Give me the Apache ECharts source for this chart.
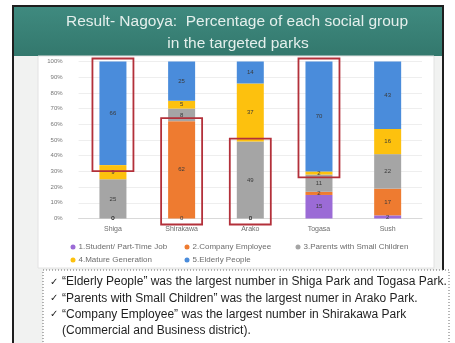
<!DOCTYPE html>
<html>
<head>
<meta charset="utf-8">
<script src="https://cdn.jsdelivr.net/npm/echarts@6/dist/echarts.min.js"></script>
<style>
  html, body { margin: 0; padding: 0; background: #ffffff; }
  #chart { width: 455px; height: 343px; }
</style>
</head>
<body>
<div id="chart"></div>
<script>
// Share of each visitor group per park (percent of respondents)
const categories = ['Shiga', 'Shirakawa', 'Arako', 'Togasa', 'Sush'];
const studentPartTime = [0, 0, 0, 15, 2];
const companyEmployee = [0, 62, 0, 2, 17];
const parentsSmallChildren = [25, 8, 49, 11, 22];
const matureGeneration = [9, 5, 37, 2, 16];
const elderlyPeople = [66, 25, 14, 70, 43];

const groupNames = [
  '1.Student/ Part-Time Job',
  '2.Company Employee',
  '3.Parents with Small Children',
  '4.Mature Generation',
  '5.Elderly People'
];
const groupColors = ['#9b6bd6', '#ee7b30', '#a5a5a5', '#fdc10e', '#4a8cdb'];

// Largest group in each highlighted park: [category index, group index]
const largestGroup = [[0, 4], [1, 1], [2, 2], [3, 4]];

const bulletLines = [
  '\u201CElderly People\u201D was the largest number in Shiga Park and Togasa Park.',
  '\u201CParents with Small Children\u201D was the largest numer in Arako Park.',
  '\u201CCompany Employee\u201D was the largest number in Shirakawa Park',
  '(Commercial and Business district).'
];

const groups = [studentPartTime, companyEmployee, parentsSmallChildren, matureGeneration, elderlyPeople];

// Segment extents (bottom/top of the stacked segment) for the framed segments
const frameData = largestGroup.map(([c, g]) => {
  let lo = 0;
  for (let i = 0; i < g; i++) lo += groups[i][c];
  return [c, lo, lo + groups[g][c]];
});

const BAR_W = 27;

const barSeries = groups.map((vals, i) => ({
  name: groupNames[i],
  type: 'bar',
  stack: 'share',
  barWidth: BAR_W,
  data: vals,
  itemStyle: { color: groupColors[i] },
  label: {
    show: true,
    position: 'inside',
    fontSize: 6,
    color: '#3a3a3a',
    fontFamily: 'Liberation Sans'
  },
  emphasis: { disabled: true }
}));

const frameSeries = {
  type: 'custom',
  name: 'frames',
  data: frameData,
  encode: { x: 0, y: [1, 2] },
  clip: false,
  z: 10,
  silent: true,
  renderItem: function (params, api) {
    const c = api.value(0);
    const top = api.coord([c, api.value(2)]);
    const bot = api.coord([c, api.value(1)]);
    const half = BAR_W / 2 + 7;
    return {
      type: 'rect',
      shape: { x: top[0] - half, y: top[1] - 3, width: half * 2, height: bot[1] - top[1] + 9 },
      style: { fill: 'none', stroke: '#b3303a', lineWidth: 1.8 }
    };
  }
};

const legendCommon = {
  icon: 'circle',
  itemWidth: 5,
  itemHeight: 5,
  itemGap: 4,
  padding: 0,
  selectedMode: false,
  textStyle: { fontSize: 8, color: '#6d6d6d', fontFamily: 'Liberation Sans', padding: [0, 0, 0, -2] }
};
const legendPos = [[70.5, 243], [184.5, 243], [295.5, 243], [70.5, 256], [184.5, 256]];

const option = {
  animation: false,
  backgroundColor: '#ffffff',
  grid: { left: 78.6, right: 33, top: 61.5, bottom: 124.5 },
  xAxis: {
    type: 'category',
    data: categories,
    axisLine: { lineStyle: { color: '#d9d9d9' } },
    axisTick: { show: false },
    axisLabel: { fontSize: 7, color: '#6d6d6d', margin: 7, fontFamily: 'Liberation Sans' }
  },
  yAxis: {
    type: 'value',
    min: 0,
    max: 100,
    interval: 10,
    axisLine: { show: false },
    axisTick: { show: false },
    splitLine: { lineStyle: { color: '#eeeeee', width: 1 } },
    axisLabel: { fontSize: 6, color: '#777777', margin: 16, formatter: '{value}%', fontFamily: 'Liberation Sans' }
  },
  legend: legendPos.map((p, i) => Object.assign({}, legendCommon, {
    data: [groupNames[i]], left: p[0], top: p[1]
  })),
  graphic: [
    // slide body and frame
    { type: 'rect', z: -10, shape: { x: 13, y: 6, width: 430, height: 345 },
      style: { fill: '#f1f2f1', stroke: '#1e1e1e', lineWidth: 2 } },
    // title band
    { type: 'rect', z: -9, shape: { x: 14, y: 7, width: 428, height: 49 },
      style: { fill: { type: 'linear', x: 0, y: 0, x2: 0, y2: 1,
        colorStops: [{ offset: 0, color: '#3f8a7f' }, { offset: 1, color: '#33786d' }] } } },
    // chart panel
    { type: 'rect', z: -9, shape: { x: 38, y: 56, width: 396, height: 212 },
      style: { fill: '#ffffff', stroke: '#e2e2e2', lineWidth: 1 } },
    { type: 'text', z: 5, x: 237, y: 22, style: {
      text: 'Result- Nagoya:  Percentage of each social group', fill: '#e4efec',
      font: '15.5px Liberation Sans', align: 'center', verticalAlign: 'middle' } },
    { type: 'text', z: 5, x: 238, y: 44, style: {
      text: 'in the targeted parks', fill: '#e4efec',
      font: '15.5px Liberation Sans', align: 'center', verticalAlign: 'middle' } },
    // note box
    { type: 'rect', z: 1, shape: { x: 43, y: 270, width: 406, height: 80 },
      style: { fill: '#ffffff', stroke: '#6a6a6a', lineWidth: 1, lineDash: [1, 2] } }
  ].concat(bulletLines.map((t, i) => ({
    type: 'text', z: 5, x: 62, y: 282 + i * 16.3, style: {
      text: t, fill: '#1f1f1f', font: '12px Liberation Sans', align: 'left', verticalAlign: 'middle' }
  }))).concat([0, 1, 2].map(i => ({
    type: 'text', z: 5, x: 50, y: 282 + i * 16.3, style: {
      text: '\u2713', fill: '#1f1f1f', font: '10px DejaVu Sans', align: 'left', verticalAlign: 'middle' }
  }))),
  series: barSeries.concat([frameSeries])
};

const chart = echarts.init(document.getElementById('chart'), null, { renderer: 'canvas' });
chart.setOption(option);
</script>
</body>
</html>
